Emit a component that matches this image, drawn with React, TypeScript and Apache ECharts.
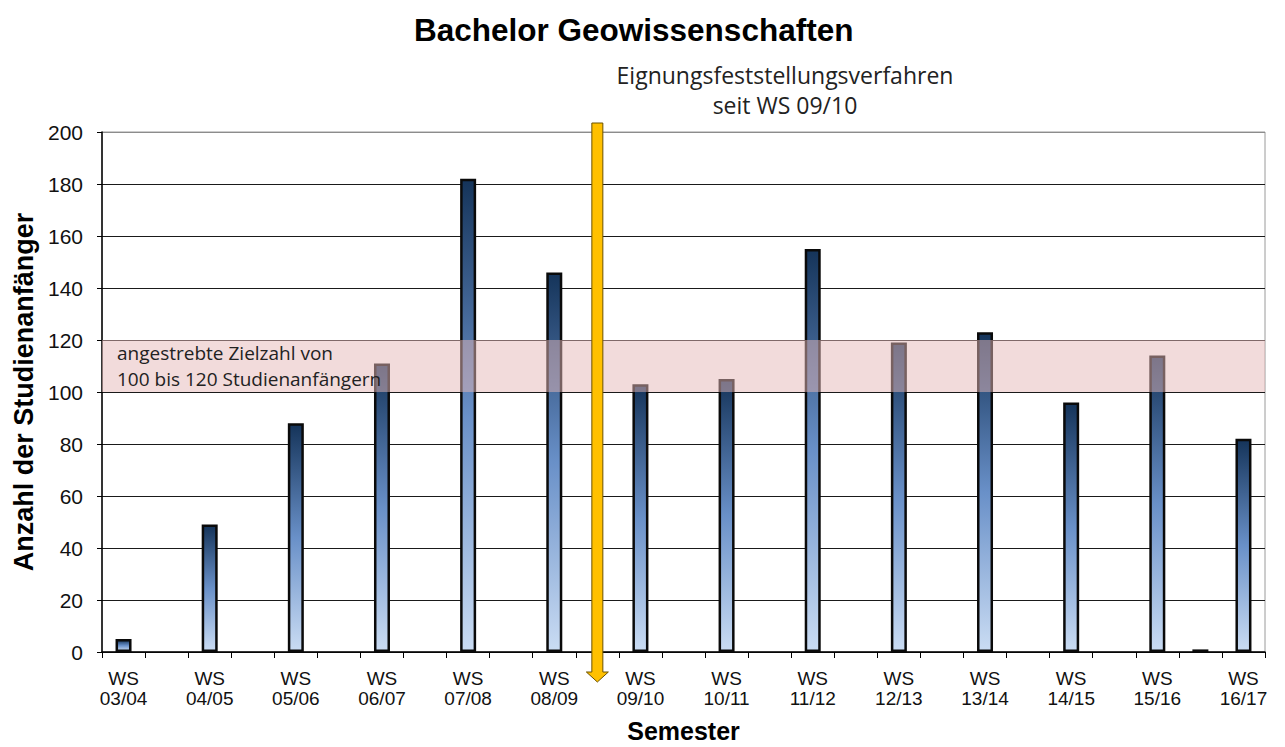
import React, { useEffect, useRef } from "react";
import * as echarts from "echarts";

const categories = [
  "WS\n03/04", "SS\n04", "WS\n04/05", "SS\n05", "WS\n05/06", "SS\n06", "WS\n06/07", "SS\n07",
  "WS\n07/08", "SS\n08", "WS\n08/09", "SS\n09", "WS\n09/10", "SS\n10", "WS\n10/11", "SS\n11",
  "WS\n11/12", "SS\n12", "WS\n12/13", "SS\n13", "WS\n13/14", "SS\n14", "WS\n14/15", "SS\n15",
  "WS\n15/16", "SS\n16", "WS\n16/17",
];
const values: (number | null)[] = [
  5, null, 49, null, 88, null, 111, null, 182, null, 146, null, 103, null, 105, null,
  155, null, 119, null, 123, null, 96, null, 114, 1, 82,
];
const targetRange = [100, 120];
const arrowIndex = 11; // between WS 08/09 and WS 09/10
const yTicks = { min: 0, max: 200, interval: 20 };

const titleText = "Bachelor Geowissenschaften";
const yAxisName = "Anzahl der Studienanfänger";
const xAxisName = "Semester";
const bandText = "angestrebte Zielzahl von\n100 bis 120 Studienanfängern";
const noteText = "Eignungsfeststellungsverfahren\nseit WS 09/10";

export default function App() {
  const ref = useRef<HTMLDivElement>(null);
  useEffect(() => {
    if (!ref.current) return;
    document.body.style.margin = "0";
    const chart = echarts.init(ref.current, null, { renderer: "svg", width: 1285, height: 747 });
    const arial = "'Liberation Sans', Arial, sans-serif";
    const calibri = "'Open Sans', 'Noto Sans', sans-serif";
    const gridColors = ["#1a1a1a", "#1a1a1a", "#1a1a1a", "#1a1a1a", "#1a1a1a", "#1a1a1a",
      "#1a1a1a", "#1a1a1a", "#1a1a1a", "#1a1a1a", "#8c8c8c"];
    chart.setOption({
      animation: false,
      backgroundColor: "#ffffff",
      title: {
        text: titleText,
        left: 409,
        top: 9,
        textStyle: { fontFamily: arial, fontSize: 31.5, fontWeight: "bold", color: "#000" },
      },
      grid: {
        left: 102,
        width: 1163,
        top: 132,
        height: 520,
        outerBoundsMode: "none",
        containLabel: false,
        show: true,
        borderColor: "#9a9a9a",
        borderWidth: 1,
      },
      graphic: [
        {
          type: "text",
          x: 785,
          y: 60,
          style: {
            text: noteText,
            fontFamily: calibri,
            fontSize: 23,
            lineHeight: 30,
            fill: "#222",
            align: "center",
          },
        },
      ],
      xAxis: {
        type: "category",
        data: categories,
        name: xAxisName,
        nameLocation: "middle",
        nameGap: 66,
        nameTextStyle: {
          fontFamily: arial,
          fontSize: 25,
          lineHeight: 25,
          fontWeight: "bold",
          color: "#000",
        },
        boundaryGap: true,
        axisLine: { lineStyle: { color: "#000", width: 1.5 } },
        axisTick: { show: true, interval: 0, length: 6, lineStyle: { color: "#000" } },
        axisLabel: {
          interval: 1,
          fontFamily: arial,
          fontSize: 19,
          lineHeight: 20,
          color: "#111",
          margin: 16,
        },
        splitLine: { show: false },
      },
      yAxis: {
        type: "value",
        min: yTicks.min,
        max: yTicks.max,
        interval: yTicks.interval,
        name: yAxisName,
        nameLocation: "middle",
        nameGap: 63,
        nameTextStyle: { fontFamily: arial, fontSize: 27, fontWeight: "bold", color: "#000" },
        axisLine: { show: true, lineStyle: { color: "#000", width: 1.5 } },
        axisTick: { show: true, length: 5, lineStyle: { color: "#000" } },
        axisLabel: { fontFamily: arial, fontSize: 21, color: "#111", margin: 19 },
        splitLine: { show: true, lineStyle: { color: gridColors, width: 1 } },
      },
      series: [
        {
          type: "bar",
          data: values,
          barWidth: 16,
          z: 2,
          itemStyle: {
            borderColor: "#0a0a0a",
            borderWidth: 2.5,
            color: new echarts.graphic.LinearGradient(0, 0, 0, 1, [
              { offset: 0, color: "#15345a" },
              { offset: 0.5, color: "#6990c8" },
              { offset: 1, color: "#cadcf3" },
            ]),
          },
        },
        {
          type: "line",
          data: [],
          z: 3,
          markArea: {
            silent: true,
            z: 3,
            itemStyle: { color: "rgba(229,183,183,0.5)" },
            label: {
              show: true,
              position: "insideLeft",
              distance: 15,
              fontFamily: calibri,
              fontSize: 19,
              lineHeight: 26,
              color: "#222",
            },
            data: [[{ yAxis: targetRange[0], name: bandText }, { yAxis: targetRange[1] }]],
          },
        },
        {
          type: "custom",
          clip: false,
          z: 5,
          data: [[arrowIndex, 0]],
          renderItem: (_params: any, api: any) => {
            const base = api.coord([api.value(0), yTicks.min]);
            const top = api.coord([api.value(0), yTicks.max]);
            const x = base[0];
            const yTop = top[1] - 9;
            const yTip = base[1] + 30;
            const headLen = 10;
            const sw = 5.5;
            const hw = 11;
            return {
              type: "polygon",
              shape: {
                points: [
                  [x - sw, yTop],
                  [x + sw, yTop],
                  [x + sw, yTip - headLen],
                  [x + hw, yTip - headLen],
                  [x, yTip],
                  [x - hw, yTip - headLen],
                  [x - sw, yTip - headLen],
                ],
              },
              style: { fill: "#FFC000", stroke: "#6b5200", lineWidth: 1 },
            };
          },
        },
      ],
    });
    return () => chart.dispose();
  }, []);
  return <div ref={ref} style={{ width: 1285, height: 747 }} />;
}
